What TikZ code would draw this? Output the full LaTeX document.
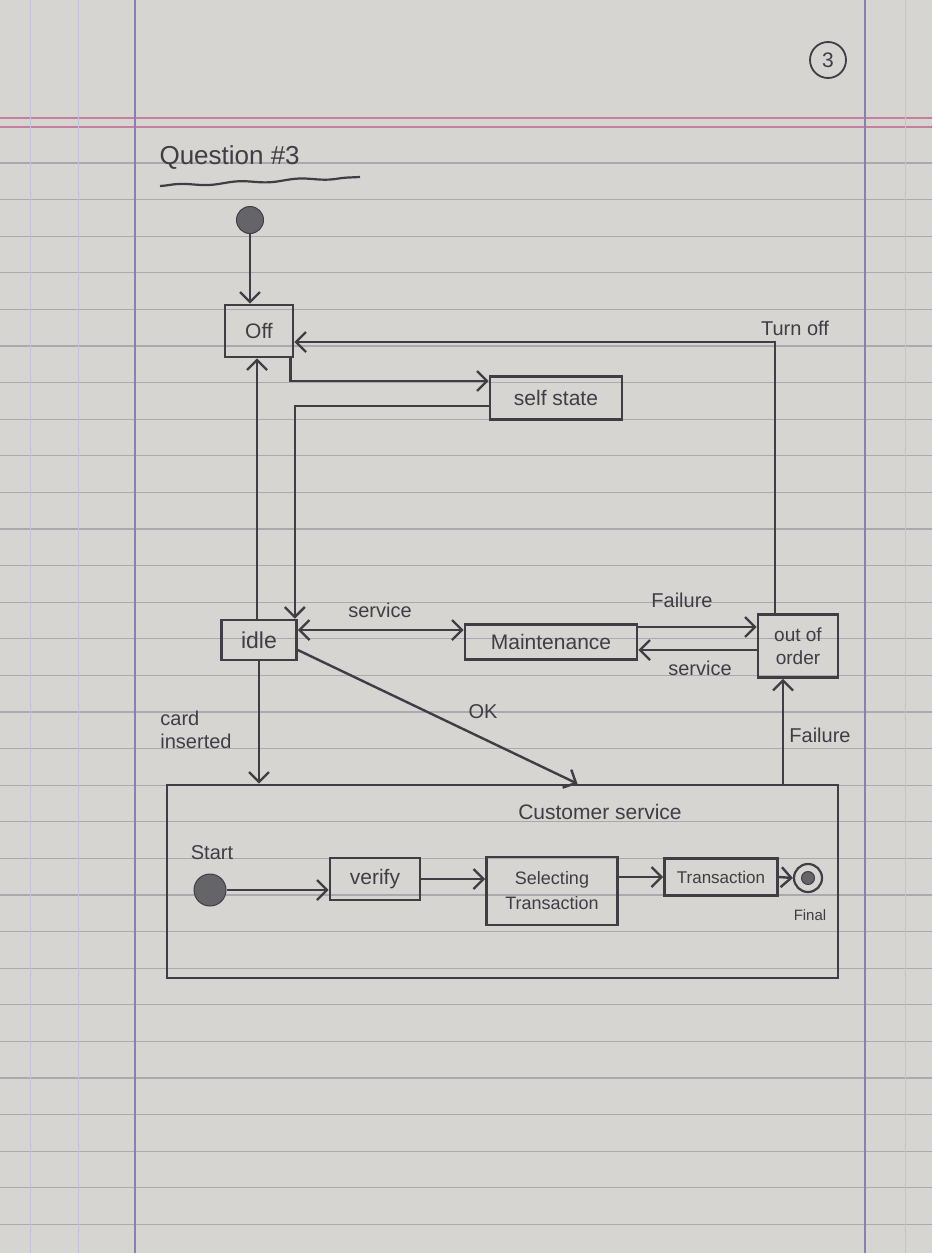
\documentclass[tikz,border=0pt]{standalone}
\usepackage{fontspec}
\setmainfont{Liberation Sans}
\usetikzlibrary{arrows.meta,decorations.pathmorphing}
\definecolor{paper}{RGB}{214,213,210}
\definecolor{ink}{RGB}{62,62,68}
\definecolor{rulecol}{RGB}{170,170,174}
\definecolor{margincol}{RGB}{135,128,178}
\definecolor{pinkline}{RGB}{196,128,158}
\begin{document}
\begin{tikzpicture}[x=1pt,y=-1pt,
  box/.style={draw=ink, line width=2.6pt, inner sep=4pt, text=ink, font=\fontsize{21}{25}\selectfont, align=center},
  lbl/.style={text=ink, inner sep=1pt, font=\fontsize{20}{23}\selectfont, align=left},
  arr/.style={draw=ink, line width=2.4pt, -{Straight Barb[length=10pt,width=20pt]}},
  arrboth/.style={draw=ink, line width=2.4pt, {Straight Barb[length=10pt,width=20pt]}-{Straight Barb[length=10pt,width=20pt]}},
  dot/.style={circle, fill=ink!80, draw=ink, line width=1pt, inner sep=0pt}]
% paper
\fill[paper] (0,0) rectangle (932,1253);
\useasboundingbox (0,0) rectangle (932,1253);
\foreach \k in {0,...,29} {\draw[rulecol, line width=1.2pt] (0,{163+36.6*\k}) -- (932,{163+36.6*\k});}
\draw[pinkline, line width=1.2pt] (0,118) -- (932,118);
\draw[pinkline, line width=1.2pt] (0,127) -- (932,127);
\draw[margincol!50, line width=1pt] (30,0) -- (30,1253);
\draw[margincol!50, line width=1pt] (78,0) -- (78,1253);
\draw[margincol, line width=1.3pt] (135,0) -- (135,1253);
\draw[margincol, line width=1.3pt] (865,0) -- (865,1253);
\draw[margincol!50, line width=1pt] (905,0) -- (905,1253);
% page number
\node[circle, draw=ink, line width=1.8pt, minimum size=36pt, inner sep=0pt, text=ink, font=\fontsize{21}{23}\selectfont] (pagenum) at (828,60) {3};
% title
\node[text=ink, font=\fontsize{26}{30}\selectfont, anchor=west] (title) at (156,158) {Question \#3};
\draw[ink, line width=2.2pt, decorate, decoration={snake, amplitude=1.2pt, segment length=60pt}] (160,186) -- (360,177);
% states
\node[dot, minimum size=27pt] (init) at (250,220) {};
\node[box, minimum width=68pt, minimum height=52pt] (off) at (259,331) {Off};
\node[box, minimum width=132pt, minimum height=43pt] (self) at (556,398) {self state};
\node[box, minimum width=75pt, minimum height=40pt, font=\fontsize{23}{26}\selectfont] (idle) at (259,640) {idle};
\node[box, minimum width=172pt, minimum height=35pt] (maint) at (551,642) {Maintenance};
\node[box, minimum width=80pt, minimum height=63pt, inner sep=2pt, font=\fontsize{19}{23}\selectfont] (oo) at (798,646) {out of\\order};
\node[box, minimum width=671pt, minimum height=193pt] (cs) at (502.5,881.5) {};
\node[text=ink, font=\fontsize{21}{25}\selectfont] (cstitle) at (600,812) {Customer service};
\node[dot, minimum size=32pt] (start) at (210,890) {};
\node[box, minimum width=90pt, minimum height=42pt] (verify) at (375,879) {verify};
\node[box, minimum width=131pt, minimum height=68pt, font=\fontsize{18}{25}\selectfont] (sel) at (552,891) {Selecting\\Transaction};
\node[box, minimum width=113pt, minimum height=37pt, font=\fontsize{17}{21}\selectfont, inner sep=2pt] (trans) at (721,877) {Transaction};
\node[circle, draw=ink, line width=2.2pt, minimum size=28pt, inner sep=0pt] (final) at (808,878) {};
\node[dot, minimum size=13pt] (finalin) at (final.center) {};
% labels
\node[lbl] (lturnoff) at (795,328) {Turn off};
\node[lbl] (lserv1) at (380,610) {service};
\node[lbl] (lfail1) at (682,600) {Failure};
\node[lbl] (lserv2) at (700,668) {service};
\node[lbl] (lcard) at (196,730) {card\\inserted};
\node[lbl] (lok) at (483,712) {OK};
\node[lbl] (lfail2) at (820,735) {Failure};
\node[lbl] (lstart) at (212,853) {Start};
\node[lbl, font=\fontsize{15}{17}\selectfont] (lfinal) at (810,915) {Final};
% connectors
\draw[arr] (init.south) -- (init.south |- off.north);
\draw[arr] ([xshift=-4pt]off.south east) |- ([yshift=17pt]self.west);
\draw[arr] ([yshift=-8pt]self.west) -| ([xshift=-3pt]idle.north east);
\draw[arr] ([xshift=-2pt]idle.north) -- ([xshift=-2pt]off.south);
\draw[arr] ([xshift=-23pt]oo.north) |- ([yshift=-11pt]off.east);
\draw[arrboth] ([yshift=10pt]idle.east) -- ([yshift=10pt]idle.east -| maint.west);
\draw[arr] ([yshift=15pt]maint.east) -- ([yshift=15pt]maint.east -| oo.west);
\draw[arr] ([yshift=-8pt]maint.east -| oo.west) -- ([yshift=-8pt]maint.east);
\draw[arr] ([yshift=-10pt]idle.east) -- ([xshift=75pt]cs.north);
\draw[arr] (idle.south) -- (idle.south |- cs.north);
\draw[arr] ([xshift=-15pt]oo.south |- cs.north) -- ([xshift=-15pt]oo.south);
\draw[arr] (start.east) -- (start.east -| verify.west);
\draw[arr] (verify.east) -- (verify.east -| sel.west);
\draw[arr] (trans.west -| sel.east) -- (trans.west);
\draw[arr] (trans.east) -- (final.west);
\end{tikzpicture}
\end{document}
